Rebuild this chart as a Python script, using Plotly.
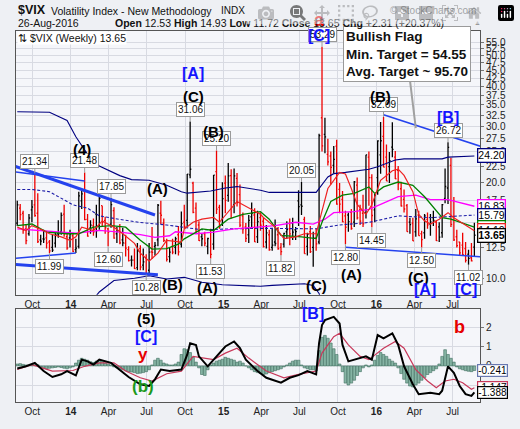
import numpy as np
import pandas as pd
import plotly.graph_objects as go

# weekly bars, Aug 2013 - Aug 2016
weeks = pd.date_range("2013-08-26", periods=157, freq="W-MON")

vix_open = [
    14.9, 16.6, 16.0, 14.3, 13.8, 16.4, 17.0, 16.0, 13.2, 13.3,
    13.4, 13.0, 12.5, 12.9, 13.8, 14.0, 15.9, 13.5, 13.4, 13.6,
    12.3, 12.6, 17.5, 18.8, 15.3, 14.4, 14.6, 15.9, 14.6, 16.9,
    15.2, 14.3, 14.8, 16.3, 13.8, 14.5, 13.2, 12.9, 12.3, 11.4,
    11.4, 10.8, 12.4, 11.0, 11.6, 10.6, 12.1, 12.6, 13.2, 16.0,
    14.9, 13.1, 11.7, 12.6, 12.5, 13.7, 12.8, 15.0, 15.2, 21.1,
    19.9, 16.6, 14.7, 13.5, 13.8, 12.6, 14.2, 12.8, 21.6, 16.7,
    15.3, 19.9, 18.2, 21.0, 17.0, 20.6, 18.3, 15.7, 14.5, 13.7,
    15.6, 15.8, 13.5, 15.5, 15.1, 13.0, 13.7, 12.5, 13.0, 13.7,
    12.5, 12.8, 14.0, 14.3, 14.9, 14.2, 17.5, 17.0, 15.3, 12.6,
    14.0, 12.5, 13.4, 13.0, 31.9, 28.3, 24.5, 24.2, 22.6, 26.0,
    19.0, 17.7, 15.7, 15.8, 16.1, 15.0, 19.6, 16.4, 16.0, 16.0,
    24.0, 20.7, 16.4, 20.7, 24.4, 27.9, 24.0, 22.4, 25.8, 24.0,
    21.8, 19.1, 17.7, 16.9, 15.0, 14.9, 14.0, 15.8, 13.8, 13.9,
    15.3, 14.8, 15.5, 15.0, 14.5, 13.9, 17.8, 19.2, 22.6, 15.6,
    13.5, 13.0, 12.7, 12.4, 11.9, 11.6, 12.53,
]
vix_high = [
    17.5, 17.1, 16.3, 14.7, 15.9, 17.6, 21.34, 18.5, 13.7, 14.2,
    14.1, 13.2, 13.7, 13.9, 15.2, 16.1, 17.0, 13.9, 14.2, 13.9,
    13.3, 18.7, 19.0, 21.48, 15.9, 15.2, 15.4, 17.0, 18.2, 16.9,
    15.6, 14.4, 17.85, 16.7, 14.5, 14.8, 14.4, 13.7, 12.6, 11.8,
    12.4, 12.9, 12.7, 12.4, 11.9, 12.9, 14.5, 13.0, 17.1, 17.5,
    15.4, 13.3, 12.5, 13.3, 13.5, 14.6, 16.2, 17.0, 21.25, 31.06,
    20.1, 17.3, 15.1, 13.8, 14.0, 13.4, 14.3, 21.1, 25.20, 17.0,
    20.0, 21.0, 23.0, 22.0, 22.1, 21.4, 19.7, 16.1, 14.9, 15.8,
    17.3, 16.6, 16.3, 16.1, 15.5, 14.7, 14.2, 14.4, 15.3, 14.5,
    12.9, 13.9, 15.1, 15.4, 15.5, 14.5, 18.9, 20.05, 15.6, 13.9,
    14.6, 14.0, 14.3, 28.4, 53.29, 31.9, 27.4, 25.0, 26.0, 27.2,
    19.9, 18.8, 16.3, 16.1, 16.5, 20.2, 20.7, 17.0, 18.3, 24.4,
    25.0, 21.2, 18.4, 27.1, 30.95, 32.09, 26.3, 24.9, 30.9, 25.1,
    22.5, 20.1, 19.0, 17.1, 15.5, 15.5, 16.5, 16.3, 14.1, 15.9,
    16.1, 15.9, 16.3, 15.2, 15.0, 17.1, 22.1, 26.72, 23.9, 18.0,
    14.2, 13.0, 13.9, 13.0, 12.3, 12.9, 14.93,
]
vix_low = [
    14.6, 15.2, 13.8, 12.8, 13.6, 15.0, 15.6, 12.9, 12.7, 12.9,
    12.4, 11.99, 12.1, 12.5, 13.4, 13.7, 13.5, 12.3, 12.5, 12.1,
    12.0, 12.4, 16.5, 15.2, 13.5, 13.8, 13.6, 13.4, 14.2, 14.5,
    13.8, 12.60, 14.4, 13.3, 12.9, 12.8, 12.6, 11.7, 11.3, 10.9,
    10.7, 10.6, 10.6, 10.6, 10.28, 10.3, 11.5, 11.8, 12.6, 14.8,
    13.0, 11.3, 11.2, 11.9, 11.9, 11.8, 12.5, 14.3, 14.5, 20.6,
    16.0, 13.9, 13.1, 12.6, 12.6, 11.9, 11.53, 12.3, 15.9, 14.3,
    14.6, 16.0, 17.4, 15.4, 16.0, 16.8, 14.5, 13.8, 13.0, 12.9,
    14.5, 13.0, 12.9, 14.1, 12.5, 12.4, 12.2, 12.2, 12.6, 12.3,
    11.82, 12.5, 13.3, 12.7, 13.2, 13.2, 14.6, 15.8, 11.95, 11.8,
    12.0, 10.88, 12.2, 12.8, 25.0, 24.7, 22.6, 19.7, 21.4, 17.0,
    16.0, 15.0, 12.80, 14.0, 14.2, 14.5, 15.3, 14.7, 14.5, 15.4,
    16.9, 14.45, 15.0, 18.3, 21.3, 22.3, 20.2, 19.9, 24.0, 20.5,
    18.9, 16.8, 16.1, 14.0, 13.8, 13.1, 13.5, 13.6, 12.50, 13.3,
    14.3, 13.6, 14.6, 13.1, 13.0, 13.4, 17.2, 17.1, 14.5, 13.1,
    12.5, 11.8, 11.8, 11.2, 11.02, 11.3, 11.72,
]
vix_close = [
    17.01, 15.85, 14.16, 13.12, 15.46, 16.74, 15.72, 13.04, 13.09, 13.28,
    12.90, 12.19, 12.26, 13.70, 13.79, 15.76, 13.79, 12.46, 13.76, 12.14,
    12.44, 18.14, 18.41, 15.29, 13.57, 14.68, 14.00, 14.11, 17.82, 15.00,
    14.41, 13.96, 17.03, 13.36, 14.06, 12.91, 12.92, 12.44, 11.36, 11.40,
    10.73, 12.18, 10.85, 11.26, 10.32, 12.08, 12.06, 12.69, 16.95, 15.77,
    13.15, 11.47, 12.09, 12.09, 13.31, 12.11, 14.85, 14.55, 21.24, 21.99,
    16.11, 14.03, 13.12, 13.31, 12.90, 13.33, 11.89, 21.08, 16.49, 14.50,
    17.79, 17.55, 20.95, 16.66, 20.97, 17.29, 14.69, 14.30, 13.34, 15.20,
    16.00, 13.02, 15.07, 14.67, 12.58, 13.89, 12.29, 12.70, 12.86, 12.38,
    12.13, 13.84, 14.21, 13.78, 13.96, 14.02, 16.79, 16.83, 11.95, 13.74,
    12.12, 13.39, 12.83, 28.03, 26.05, 27.80, 23.20, 22.28, 23.62, 17.08,
    17.08, 15.05, 14.46, 15.07, 14.33, 20.08, 15.47, 15.12, 14.81, 24.39,
    20.70, 15.74, 18.21, 27.01, 27.02, 22.34, 20.20, 23.38, 25.40, 20.53,
    19.81, 16.86, 16.50, 14.02, 14.74, 13.10, 15.36, 13.62, 13.22, 15.70,
    14.72, 15.04, 15.20, 13.12, 13.47, 17.03, 19.41, 25.76, 14.77, 13.20,
    12.67, 12.02, 11.87, 11.39, 11.55, 11.34, 13.65,
]

# overlay lines, read at selected weeks
upper_idx = [0, 11, 17, 20, 24, 28, 35, 39, 45, 51, 56, 58, 66, 71, 75, 83, 86, 102, 106, 108, 112, 120, 123, 129, 132, 145, 147, 156]
upper_val = [33.3, 33.2, 31.3, 27.8, 24.5, 22.5, 21.0, 20.4, 20.3, 19.6, 18.7, 18.5, 18.8, 19.2, 19.4, 18.9, 18.6, 18.6, 20.8, 21.3, 21.5, 22.0, 22.4, 23.5, 23.7, 23.7, 24.0, 24.2]
lower_idx = [26, 28, 33, 40, 45, 51, 57, 63, 70, 74, 83, 87, 98, 101, 103, 104]
lower_val = [8.6, 9.06, 9.84, 10.0, 10.19, 9.95, 10.07, 9.72, 9.54, 9.5, 9.44, 9.5, 9.61, 9.5, 8.96, 8.4]
mid_idx = [0, 5, 11, 19, 24, 28, 35, 42, 51, 56, 63, 74, 82, 102, 110, 120, 130, 141, 156]
mid_val = [19.0, 19.0, 18.7, 17.0, 16.6, 15.7, 15.3, 14.97, 14.7, 14.5, 14.2, 14.3, 14.35, 14.3, 14.7, 14.97, 15.7, 15.5, 15.79]
magenta_idx = [0, 11, 20, 28, 35, 42, 47, 52, 54, 61, 67, 74, 83, 88, 95, 101, 105, 108, 115, 120, 124, 130, 136, 141, 147, 153, 156]
magenta_val = [14.29, 14.06, 13.85, 14.13, 13.97, 13.7, 13.45, 13.6, 14.0, 13.8, 13.97, 14.29, 14.53, 14.63, 14.99, 14.8, 15.33, 16.07, 16.18, 16.45, 17.05, 18.03, 18.24, 17.66, 17.66, 17.05, 16.83]
green_idx = [0, 5, 10, 17, 21, 26, 32, 37, 42, 46, 51, 55, 57, 63, 67, 72, 77, 83, 86, 90, 97, 102, 104, 107, 111, 115, 120, 122, 125, 130, 135, 139, 145, 148, 153, 156]
green_val = [14.63, 14.8, 13.97, 13.8, 13.8, 14.47, 14.63, 14.47, 13.16, 12.35, 12.4, 12.8, 13.3, 14.29, 14.13, 15.33, 15.88, 16.18, 15.33, 13.64, 13.49, 13.32, 14.99, 17.43, 18.24, 18.46, 19.35, 18.46, 19.35, 20.05, 19.57, 18.03, 15.5, 15.33, 14.8, 14.48]
red_idx = [0, 3, 5, 9, 11, 15, 18, 20, 22, 26, 29, 33, 36, 40, 42, 45, 48, 51, 56, 57, 60, 63, 67, 69, 75, 79, 83, 84, 88, 91, 95, 98, 102, 104, 106, 110, 112, 114, 116, 119, 121, 124, 128, 130, 132, 135, 137, 139, 141, 144, 147, 149, 153, 156]
red_val = [14.47, 14.13, 14.63, 14.13, 13.8, 13.49, 13.16, 13.49, 14.47, 14.13, 15.14, 14.47, 13.8, 12.87, 12.0, 11.32, 12.0, 13.16, 13.0, 14.29, 15.0, 15.33, 15.52, 14.99, 17.43, 16.63, 15.88, 15.52, 14.47, 13.32, 13.49, 13.8, 13.8, 16.27, 19.13, 21.48, 21.26, 19.13, 17.05, 15.88, 17.0, 20.3, 21.75, 22.0, 21.04, 18.7, 15.88, 15.14, 14.8, 15.33, 16.07, 15.5, 14.63, 14.1]

# lower indicator panel
macd_idx = [0, 3, 6, 9, 12, 15, 17, 20, 22, 24, 26, 28, 32, 35, 38, 42, 45, 47, 49, 52, 56, 58, 59, 61, 62, 65, 67, 69, 71, 74, 76, 78, 82, 85, 90, 93, 96, 99, 102, 103, 104, 105, 108, 110, 111, 113, 117, 119, 121, 123, 125, 128, 130, 132, 135, 137, 141, 144, 145, 146, 147, 149, 151, 153, 155, 156]
macd_val = [-0.13, -0.02, 0.16, -0.27, -0.58, -0.44, -0.27, -0.5, 0.33, 0.24, 0.07, 0.33, 0.16, -0.19, -0.58, -0.96, -1.05, -0.7, -0.19, -0.27, -0.19, 0.59, 1.19, 1.1, 0.5, -0.02, 0.33, 0.67, 1.02, 1.28, 0.93, 0.33, -0.27, -0.62, -0.88, -0.62, -0.48, -0.27, -0.44, 1.2, 2.14, 2.4, 2.57, 2.22, 1.1, 0.24, 0.41, 0.5, 0.33, 1.62, 1.45, 1.71, 1.1, -0.02, -0.96, -1.48, -1.4, -1.48, -1.3, -0.6, -0.02, -0.36, -1.05, -1.48, -1.57, -1.388]
signal_idx = [0, 5, 12, 19, 23, 28, 33, 37, 42, 46, 51, 56, 60, 64, 67, 71, 75, 79, 85, 91, 96, 102, 104, 108, 110, 113, 117, 120, 125, 129, 132, 136, 140, 143, 146, 149, 152, 155, 156]
signal_val = [-0.19, 0.07, -0.27, -0.24, -0.02, 0.16, 0.16, -0.27, -0.62, -0.79, -0.41, -0.27, 0.5, 0.41, 0.33, 0.67, 0.93, 0.41, -0.27, -0.62, -0.44, -0.27, 0.67, 1.53, 1.71, 1.1, 0.5, 0.33, 0.93, 1.28, 0.93, -0.19, -0.79, -1.14, -0.79, -0.7, -0.88, -1.22, -1.147]
hist_val = [
    0.1, 0.12, 0.08, 0.05, 0.03, 0.05, 0.1, 0.06, -0.05, -0.1,
    -0.15, -0.12, -0.1, -0.08, -0.05, -0.08, -0.12, -0.15, -0.1, -0.05,
    0.15, 0.3, 0.4, 0.35, 0.3, 0.22, 0.18, 0.25, 0.3, 0.28,
    0.15, 0.1, 0.05, -0.05, -0.1, -0.15, -0.2, -0.25, -0.3, -0.32,
    -0.35, -0.4, -0.38, -0.35, -0.3, -0.2, 0.05, 0.3, 0.4, 0.3,
    0.15, 0.1, 0.05, 0.05, 0.1, 0.2, 0.6, 0.9, 0.85, 0.7,
    0.45, 0.2, -0.1, -0.45, -0.5, -0.2, 0.05, 0.15, 0.25, 0.3,
    0.35, 0.45, 0.4, 0.35, 0.3, 0.2, 0.25, 0.15, 0.0, -0.1,
    -0.2, -0.3, -0.35, -0.4, -0.45, -0.42, -0.35, -0.3, -0.25, -0.2,
    -0.15, -0.05, 0.05, 0.15, 0.25, 0.3, 0.3, 0.05, -0.1, -0.15,
    -0.2, -0.2, -0.25, 0.8, 1.5, 1.6, 1.45, 1.2, 0.9, 0.6,
    0.1, -0.3, -0.9, -1.0, -0.9, -0.75, -0.5, -0.3, -0.1, 0.05,
    -0.05, 0.05, 0.3, 0.55, 0.7, 0.6, 0.5, 0.35, 0.25, 0.15,
    -0.1, -0.4, -0.7, -0.9, -1.05, -1.1, -1.0, -0.9, -0.75, -0.6,
    -0.45, -0.35, -0.25, -0.15, 0.1, 0.5, 0.85, 0.6, 0.4, 0.2,
    -0.05, -0.15, -0.2, -0.25, -0.28, -0.3, -0.241,
]

# annotation content
high_marks = [6, 23, 32, 59, 68, 97, 104, 125, 147]
low_marks = [11, 31, 44, 66, 90, 112, 121, 138, 154]
wave_main = [
    (22, 25.4, "(4)"), (48, 19.2, "(A)"), (53, 9.59, "(B)"), (60, 37.3, "(C)"),
    (67, 28.8, "(B)"), (65, 9.39, "(A)"), (102, 9.52, "(C)"), (124, 37.1, "(B)"),
    (114, 10.28, "(A)"), (137, 10.07, "(C)"),
]
wave_blue = [(60, 43.9, "[A]"), (103, 58.0, "[C]"), (147, 32.0, "[B]"), (139, 9.2, "[A]"), (153, 9.2, "[C]")]
wave_lower = [
    (44, 2.5, "(5)", "black", 15), (44, 1.55, "[C]", "#1414ff", 16), (43, 0.6, "y", "#e60000", 17),
    (43, -1.1, "(b)", "#1c9a1c", 17), (101, 2.75, "[B]", "#1414ff", 16), (151, 2.05, "b", "#e60000", 18),
]
trend_lines = [
    (-1, 22.5, 47, 15.8, 3), (-1, 21.6, 23, 20.2, 1.5), (-1, 11.55, 20, 12.0, 1.5),
    (-1, 11.05, 48, 10.26, 3), (125, 32.6, 159, 25.8, 1.5), (112, 12.51, 159, 11.67, 1.5),
]
ytick_vals = [10.0, 12.5, 15.0, 17.5, 20.0, 22.5, 25.0, 27.5, 30.0, 32.5, 35.0, 37.5, 40.0, 42.5, 45.0, 47.5, 50.0, 52.5, 55.0]
xtick_dates = ["2013-10-01", "2014-01-01", "2014-04-01", "2014-07-01", "2014-10-01", "2015-01-01",
               "2015-04-01", "2015-07-01", "2015-10-01", "2016-01-01", "2016-04-01", "2016-07-01"]
xtick_text = ["Oct", "<b>14</b>", "Apr", "Jul", "Oct", "<b>15</b>", "Apr", "Jul", "Oct", "<b>16</b>", "Apr", "Jul"]

FONT = "Liberation Sans, Arial, sans-serif"
BLUE = "#1414ff"
TL = "#2442ee"


def wdate(i):
    return weeks[0] + pd.Timedelta(weeks=i)


def px(xp):
    return (xp - 16) / 464.0


def py(yp):
    return (413 - yp) / 382.0


fig = go.Figure()

# bars coloured by close vs previous close
up = [vix_close[0] >= vix_open[0]] + [vix_close[i] > vix_close[i - 1] for i in range(1, len(vix_close))]
for flag, col in [(True, "#000000"), (False, "#ee0000")]:
    sel = [i for i in range(len(weeks)) if up[i] == flag]
    fig.add_trace(go.Ohlc(
        x=[weeks[i] for i in sel], open=[vix_open[i] for i in sel], high=[vix_high[i] for i in sel],
        low=[vix_low[i] for i in sel], close=[vix_close[i] for i in sel],
        increasing_line_color=col, decreasing_line_color=col, line_width=1.3, tickwidth=0.4,
        xaxis="x", yaxis="y", hoverinfo="skip"))

overlays = [
    (upper_idx, upper_val, "#000080", 1.1, "solid"),
    (lower_idx, lower_val, "#000080", 1.1, "solid"),
    (mid_idx, mid_val, "#1c1ca8", 1.1, "3px,2px"),
    (magenta_idx, magenta_val, "#ff00ff", 1.3, "solid"),
    (green_idx, green_val, "#008000", 1.3, "solid"),
    (red_idx, red_val, "#ee2222", 1.2, "solid"),
]
for idx, vals, col, w, dash in overlays:
    fig.add_trace(go.Scatter(x=[weeks[i] for i in idx], y=vals, mode="lines",
                             line=dict(color=col, width=w, dash=dash), xaxis="x", yaxis="y", hoverinfo="skip"))

# trend lines drawn by hand on the chart
for i0, v0, i1, v1, w in trend_lines:
    fig.add_trace(go.Scatter(x=[wdate(i0), wdate(i1)], y=[v0, v1], mode="lines",
                             line=dict(color=TL, width=w), xaxis="x", yaxis="y", hoverinfo="skip"))

# lower panel
fig.add_trace(go.Bar(x=weeks, y=hist_val, marker=dict(color="#86b4a4", line=dict(color="#3f6f60", width=0.6)),
                     xaxis="x2", yaxis="y2", hoverinfo="skip"))
fig.add_trace(go.Scatter(x=[weeks[i] for i in signal_idx], y=signal_val, mode="lines",
                         line=dict(color="#c8385a", width=1.2), xaxis="x2", yaxis="y2", hoverinfo="skip"))
fig.add_trace(go.Scatter(x=[weeks[i] for i in macd_idx], y=macd_val, mode="lines",
                         line=dict(color="#000000", width=2), xaxis="x2", yaxis="y2", hoverinfo="skip"))

ann = []
box = dict(bgcolor="white", bordercolor="#9a9a9a", borderwidth=1, borderpad=1,
           font=dict(size=10, color="#111", family=FONT), showarrow=True, arrowhead=0,
           arrowcolor="#9a9a9a", arrowwidth=1, ax=0, standoff=0)
for i in high_marks:
    ann.append(dict(x=weeks[i], y=np.log10(vix_high[i]), xref="x", yref="y",
                    text="%.2f" % vix_high[i], ay=-12, **box))
for i in low_marks:
    ann.append(dict(x=weeks[i], y=np.log10(vix_low[i]), xref="x", yref="y",
                    text="%.2f" % vix_low[i], ay=13, **box))
for i, v, t in wave_main:
    ann.append(dict(x=weeks[i], y=np.log10(v), xref="x", yref="y", text="<b>%s</b>" % t, showarrow=False,
                    font=dict(size=15, color="black", family=FONT)))
for i, v, t in wave_blue:
    ann.append(dict(x=weeks[i], y=np.log10(v), xref="x", yref="y", text="<b>%s</b>" % t, showarrow=False,
                    font=dict(size=16, color=BLUE, family=FONT)))
ann.append(dict(x=weeks[103], y=np.log10(58.0), xref="x", yref="y", yshift=15, text="<b>a</b>",
                showarrow=False, font=dict(size=18, color="#e60000", family=FONT)))
for i, v, t, c, s in wave_lower:
    ann.append(dict(x=weeks[i], y=v, xref="x2", yref="y2", text="<b>%s</b>" % t, showarrow=False,
                    font=dict(size=s, color=c, family=FONT)))

# bullish flag call-out
ann.append(dict(x=weeks[136], y=np.log10(29.6), xref="x", yref="y", ax=-9, ay=-74,
                text="<b>Bullish Flag<br>Min. Target = 54.55<br>Avg. Target ~ 95.70</b>", align="left",
                showarrow=True, arrowhead=0, arrowwidth=2, arrowcolor="#a0a0a0", standoff=0,
                bgcolor="white", bordercolor="#9a9a9a", borderwidth=1, borderpad=2,
                font=dict(size=13.5, color="#111", family=FONT)))

# right-edge value tags
tags = [
    (upper_val[-1], "#000080", False), (magenta_val[-1], "#ff00ff", False), (mid_val[-1], "#000080", False),
    (green_val[-1], "#008000", False), (red_val[-1], "#ee2222", False), (vix_close[-1], "#000000", True),
]
for v, c, bold in tags:
    t = "%.2f" % v
    ann.append(dict(x=0.993, y=np.log10(v), xref="paper", yref="y", xanchor="left",
                    text="<b>%s</b>" % t if bold else t, showarrow=False, bgcolor="white",
                    bordercolor=c, borderwidth=1.3, borderpad=0, font=dict(size=10.5, color="#000", family=FONT)))
for v, c in [(hist_val[-1], "#6878b0"), (signal_val[-1], "#c8385a"), (macd_val[-1], "#000000")]:
    ann.append(dict(x=0.993, y=v, xref="paper", yref="y2", xanchor="left", text="%.3f" % v, showarrow=False,
                    bgcolor="white", bordercolor=c, borderwidth=1.2, borderpad=0,
                    font=dict(size=10, color="#000", family=FONT)))

# header
chg = vix_close[-1] - vix_close[-2]
hdr = [
    (16, 9, "<b>$VIX</b>", 12.5, "#111", "left"),
    (49, 10, "Volatility Index - New Methodology", 10.5, "#111", "left"),
    (219, 10, "INDX", 10, "#111", "left"),
    (478, 10, "\u00a9 StockCharts.com", 10, "#555", "right"),
    (16, 23, "26-Aug-2016", 10.5, "#111", "left"),
    (113, 23, "<b>Open</b> %.2f <b>High</b> %.2f <b>Low</b> %.2f <b>Close</b> %.2f <b>Chg</b> %+.2f (%+.2f%%)"
     % (vix_open[-1], vix_high[-1], vix_low[-1], vix_close[-1], chg, chg / vix_close[-2] * 100), 10.5, "#111", "left"),
    (472, 22, "\u25b2", 7, "#999", "left"),
]
for xp, yp, t, s, c, anc in hdr:
    ann.append(dict(x=px(xp), y=py(yp), xref="paper", yref="paper", xanchor=anc, yanchor="middle",
                    text=t, showarrow=False, font=dict(size=s, color=c, family=FONT)))
ann.append(dict(x=px(17), y=1.0, xref="paper", yref="paper", xanchor="left", yanchor="top",
                text="\u21c5 $VIX (Weekly) %.2f" % vix_close[-1], showarrow=False, bgcolor="white",
                borderpad=0, font=dict(size=10.5, color="#111", family=FONT)))

xcommon = dict(type="date", range=["2013-08-23", "2016-09-04 10:00"], tickvals=xtick_dates, ticktext=xtick_text,
               showgrid=True, gridcolor="#d8dae2", gridwidth=1, showline=True, linecolor="#555", mirror=True,
               ticks="", tickfont=dict(size=10, color="#222", family=FONT), zeroline=False)
fig.update_layout(
    width=520, height=429, margin=dict(l=16, r=40, t=31, b=16),
    paper_bgcolor="#eef0f4", plot_bgcolor="#f5f6fa", showlegend=False, bargap=0.08,
    font=dict(family=FONT),
    xaxis=dict(anchor="y", domain=[0, 1], rangeslider=dict(visible=False), **xcommon),
    xaxis2=dict(anchor="y2", domain=[0, 1], matches="x", **xcommon),
    yaxis=dict(domain=[0.289, 1], type="log", range=[0.9483, 1.776], side="right", tickvals=ytick_vals,
               ticktext=["%.1f" % v for v in ytick_vals], showgrid=True, gridcolor="#d8dae2", showline=True,
               linecolor="#555", mirror=True, ticks="outside", ticklen=3, tickcolor="#777",
               tickfont=dict(size=10, color="#222", family=FONT), anchor="x"),
    yaxis2=dict(domain=[0, 0.2495], range=[-1.89, 2.96], side="right", tickvals=[-1, 0, 1, 2],
                showgrid=True, gridcolor="#d8dae2", showline=True, linecolor="#555", mirror=True,
                ticks="outside", ticklen=3, tickcolor="#777", zeroline=False,
                tickfont=dict(size=10, color="#222", family=FONT), anchor="x2"),
    annotations=ann,
)

fig.write_html("out.html", post_script="document.body.style.margin='0px';")
